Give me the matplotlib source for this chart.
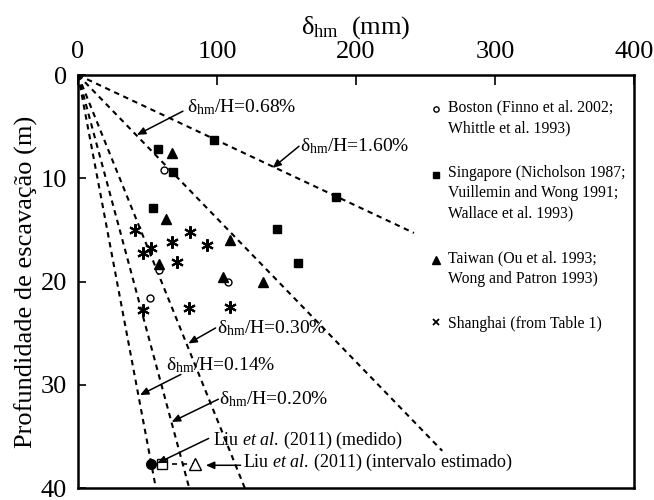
import numpy as np
import matplotlib
matplotlib.use('Agg')
import matplotlib.pyplot as plt
from matplotlib.lines import Line2D

plt.rcParams['font.family'] = ['Liberation Serif', 'DejaVu Serif']
plt.rcParams['mathtext.fontset'] = 'custom'
plt.rcParams['mathtext.rm'] = 'Liberation Serif'
plt.rcParams['mathtext.it'] = 'Liberation Serif:italic'

# data: x = delta_hm (mm), y = depth H (m)
boston_x = [61.9, 58.3, 107.8, 52.1]
boston_y = [9.2, 18.9, 20.0, 21.6]
singapore_x = [98.2, 57.6, 68.3, 185.4, 54.0, 143.0, 158.0]
singapore_y = [6.3, 7.2, 9.4, 11.8, 12.9, 14.9, 18.2]
taiwan_x = [67.9, 63.6, 109.0, 58.3, 104.2, 133.3]
taiwan_y = [7.6, 13.9, 16.0, 18.3, 19.6, 20.0]
shanghai_x = [40.9, 80.3, 67.6, 92.7, 52.3, 46.8, 71.2, 46.8, 79.6, 109.0]
shanghai_y = [15.0, 15.2, 16.2, 16.5, 16.8, 17.2, 18.1, 22.8, 22.6, 22.5]

liu_med_x = [52.8]
liu_med_y = [37.7]
liu_int_x = [60.4, 84.3]
liu_int_y = [37.7, 37.7]

# dashed reference lines: slope as drawn (mm per m /10), label and end depth
line_slopes = [0.14, 0.20, 0.30, 0.72, 1.58]
line_end_depth = [40, 40, 40, 36.4, 15.3]
line_labels = ['0.14%', '0.20%', '0.30%', '0.68%', '1.60%']

xticks = [0, 100, 200, 300, 400]
yticks = [0, 10, 20, 30, 40]

legend_labels = ['Boston (Finno et al. 2002;\nWhittle et al. 1993)',
                 'Singapore (Nicholson 1987;\nVuillemin and Wong 1991;\nWallace et al. 1993)',
                 'Taiwan (Ou et al. 1993;\nWong and Patron 1993)',
                 'Shanghai (from Table 1)']

fig = plt.figure(figsize=(6.54, 5.0), dpi=100)
ax = fig.add_axes([0.1193, 0.024, 0.850, 0.826])

dash = (0, (2.6, 2.2))
for r, hmax in zip(line_slopes, line_end_depth):
    h = np.array([0, hmax])
    ax.plot(h * r * 10, h, color='black', lw=1.5, linestyle=dash)

ax.plot(boston_x, boston_y, 'o', mfc='white', mec='black', ms=5, mew=1.0, ls='none')
ax.plot(singapore_x, singapore_y, 's', color='black', ms=6, ls='none')
ax.plot(taiwan_x, taiwan_y, '^', color='black', ms=7, ls='none')
ax.plot(shanghai_x, shanghai_y, marker=(6, 2, 0), color='black', ms=9, mew=1.5, ls='none')

ax.plot(liu_int_x, liu_int_y, color='black', lw=1.2, linestyle=(0, (3, 3)))
ax.plot(liu_int_x[:1], liu_int_y[:1], 's', mfc='white', mec='black', ms=7, mew=1.0)
ax.plot(liu_int_x[1:], liu_int_y[1:], '^', mfc='white', mec='black', ms=8, mew=1.0)
ax.plot(liu_med_x, liu_med_y, 'o', color='black', ms=7)

arr = dict(arrowstyle='-|>,head_length=0.5,head_width=0.22', color='black', lw=1.1,
           shrinkA=0, shrinkB=0)
fs_ann = 14
# label, text baseline position, arrow tail, arrow head
annots = [
    ('0.68%', (78.4, 3.6), (75.5, 3.5), (42.4, 5.8)),
    ('1.60%', (159.7, 7.4), (159.0, 6.9), (140.0, 9.0)),
    ('0.30%', (99.8, 25.0), (99.0, 24.5), (79.4, 26.0)),
    ('0.14%', (63.3, 28.6), (74.0, 29.0), (44.6, 31.0)),
    ('0.20%', (101.7, 31.9), (101.0, 31.4), (67.4, 33.6)),
]
for lab, pos, tail, head in annots:
    ax.text(pos[0], pos[1], r'δ$_{\mathrm{hm}}$/H=' + lab, fontsize=fs_ann,
            ha='left', va='baseline')
    ax.annotate('', xy=head, xytext=tail, arrowprops=arr)

ax.text(97.0, 35.8, r'Liu $\mathit{et\ al.}\,$(2011) (medido)', fontsize=13,
        ha='left', va='baseline')
ax.annotate('', xy=(57.0, 37.6), xytext=(94.0, 35.2), arrowprops=arr)
ax.text(118.5, 38.0, r'Liu $\mathit{et\ al.}\,$(2011) (intervalo estimado)', fontsize=13,
        ha='left', va='baseline')
ax.annotate('', xy=(92.0, 37.8), xytext=(117.0, 37.8), arrowprops=arr)

proxies = [Line2D([], [], marker='o', mfc='white', mec='black', ms=3.8, mew=1.0, ls='none'),
           Line2D([], [], marker='s', color='black', ms=4.5, ls='none'),
           Line2D([], [], marker='^', color='black', ms=5.5, ls='none'),
           Line2D([], [], marker='x', color='black', ms=4.5, mew=1.3, ls='none')]
leg = ax.legend(proxies, legend_labels, loc='upper left', bbox_to_anchor=(0.625, 0.955),
                frameon=False, fontsize=11.3, handlelength=0.6, handletextpad=0.45,
                labelspacing=1.85, borderaxespad=0)
for t in leg.get_texts():
    t.set_linespacing(1.35)

ax.set_xlim(0, 400)
ax.set_ylim(40, 0)
ax.set_xticks(xticks)
ax.set_yticks(yticks)
ax.xaxis.tick_top()
ax.xaxis.set_label_position('top')
ax.tick_params(axis='x', direction='in', length=7, width=1.2, labelsize=19, pad=9)
ax.tick_params(axis='y', direction='in', length=6, width=1.2, labelsize=19, pad=8)
ax.set_xlabel(r'δ$_{\mathrm{hm}}$  (mm)', fontsize=19, labelpad=5)
ax.set_ylabel('Profundidade de escavação (m)', fontsize=19, labelpad=2)
for s in ax.spines.values():
    s.set_linewidth(1.8)

# move each legend marker up to the first line of its (multi-line) label
fig.canvas.draw()
for hnd, t in zip(leg.legend_handles, leg.get_texts()):
    n = t.get_text().count('\n') + 1
    if n > 1:
        bb = t.get_window_extent()
        shift = (bb.height / 2 - bb.height / (2 * n)) * 72 / fig.dpi
        hnd.set_ydata(np.asarray(hnd.get_ydata()) + shift)

fig.savefig('out.png', dpi=100)
